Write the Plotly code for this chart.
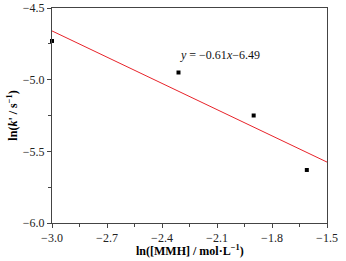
import plotly.graph_objects as go

x_vals = [-3.0, -2.31, -1.90, -1.61]
y_vals = [-4.73, -4.95, -5.25, -5.63]
fit_slope = -0.61
fit_intercept = -6.49
fit_x = [-3.0, -1.5]
fit_y = [fit_slope * v + fit_intercept for v in fit_x]
x_ticks = [-3.0, -2.7, -2.4, -2.1, -1.8, -1.5]
y_ticks = [-4.5, -5.0, -5.5, -6.0]

font = "Liberation Serif, Times New Roman, serif"

fig = go.Figure()
fig.add_trace(go.Scatter(x=fit_x, y=fit_y, mode="lines",
                         line=dict(color="#e8232a", width=1), showlegend=False))
fig.add_trace(go.Scatter(x=x_vals, y=y_vals, mode="markers",
                         marker=dict(symbol="square", size=4, color="black"),
                         showlegend=False, cliponaxis=False))
fig.add_annotation(x=-2.313, y=-4.83, xref="x", yref="y", xanchor="left",
                   text="<i>y</i> = \u22120.61<i>x</i>\u22126.49", showarrow=False,
                   font=dict(family=font, size=12, color="#111"))
fig.add_annotation(x=0.5, y=-0.126, xref="paper", yref="paper", xanchor="center", yanchor="middle",
                   text="<b>ln([MMH] / mol\u00b7L<sup>\u22121</sup>)</b>", showarrow=False,
                   font=dict(family=font, size=12, color="black"))
fig.add_annotation(x=-0.145, y=0.5, xref="paper", yref="paper", xanchor="center", yanchor="middle",
                   text="<b>ln(<i>k</i>' / s<sup>\u22121</sup>)</b>", showarrow=False, textangle=-90,
                   font=dict(family=font, size=12, color="black"))

axis_common = dict(showline=True, linecolor="#444", linewidth=1, mirror=True,
                   ticks="outside", ticklen=4, tickcolor="#444", showgrid=False,
                   zeroline=False, automargin=False,
                   tickfont=dict(family=font, size=12, color="#222"))
fig.update_xaxes(range=[-3.0, -1.5], tickvals=x_ticks,
                 ticktext=[f"\u2212{abs(v):.1f}" for v in x_ticks],
                 minor=dict(ticks="outside", ticklen=3, tickcolor="#444", dtick=0.15, tick0=-3.0),
                 **axis_common)
fig.update_yaxes(range=[-6.0, -4.5], tickvals=y_ticks,
                 ticktext=[f"\u2212{abs(v):.1f}" for v in y_ticks],
                 minor=dict(ticks="outside", ticklen=3, tickcolor="#444", dtick=0.25, tick0=-6.0),
                 **axis_common)
fig.update_layout(width=346, height=261, margin=dict(l=52, r=19, t=8, b=38),
                  plot_bgcolor="white", paper_bgcolor="white")
fig.write_html("out.html", config={"displayModeBar": False},
               post_script="document.body.style.margin='0';document.body.style.overflow='hidden';")
